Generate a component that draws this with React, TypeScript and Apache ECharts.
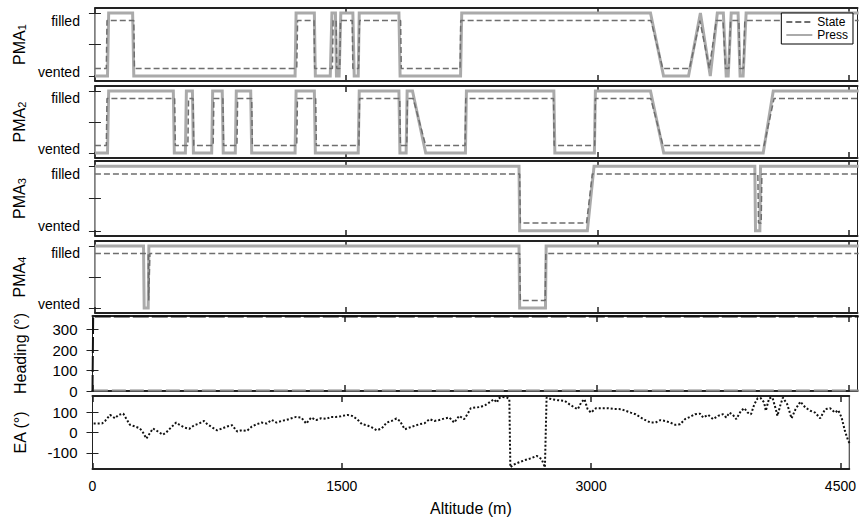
import React, { useEffect, useRef } from 'react';
import * as echarts from 'echarts';

// ---------- data ----------
const altitudeTicks = [0, 1500, 3000, 4500];
const headingTicks = [0, 100, 200, 300];
const eaTicks = [-100, 0, 100];
const panelNames = ['PMA1', 'PMA2', 'PMA3', 'PMA4', 'Heading (°)', 'EA (°)'];

// Press: 1 = filled, 0 = vented ; State drawn at its own levels (0.12 vented / 0.88 filled)
const pma1Press = [[0,0],[75,0],[82,1],[225,1],[232,0],[1195,0],[1201,1],[1310,1],[1316,0],[1405,0],[1415,1],[1436,1],[1442,0],[1458,0],[1468,1],[1540,1],[1548,0],[1572,0],[1578,1],[1815,1],[1822,0],[2183,0],[2190,1],[3317,1],[3395,0],[3544,0],[3615,1],[3674,0],[3716,1],[3752,1],[3769,0],[3781,0],[3799,1],[3840,1],[3852,0],[3870,0],[3888,1],[4560,1]];
const pma1State = [[0,0.12],[68,0.12],[72,0.88],[232,0.88],[236,0.12],[1205,0.12],[1210,0.88],[1308,0.88],[1312,0.12],[1418,0.12],[1422,0.88],[1440,0.88],[1444,0.12],[1462,0.12],[1466,0.88],[1536,0.88],[1540,0.12],[1574,0.12],[1580,0.88],[1825,0.88],[1829,0.12],[2180,0.12],[2184,0.88],[3320,0.88],[3390,0.12],[3550,0.12],[3612,0.88],[3668,0.12],[3710,0.88],[3750,0.88],[3765,0.12],[3785,0.12],[3795,0.88],[3845,0.88],[3850,0.12],[3872,0.12],[3880,0.88],[4560,0.88]];
const pma2Press = [[0,0],[75,0],[82,1],[468,1],[474,0],[540,0],[546,1],[582,1],[588,0],[697,0],[703,1],[760,1],[766,0],[838,0],[844,1],[930,1],[936,0],[1195,0],[1201,1],[1310,1],[1316,0],[1572,0],[1578,1],[1815,1],[1821,0],[1858,0],[1864,1],[1896,1],[1975,0],[2212,0],[2218,1],[2740,1],[2746,0],[2982,0],[2988,1],[3317,1],[3396,0],[3990,0],[4050,1],[4560,1]];
const pma2State = [[0,0.12],[68,0.12],[72,0.88],[476,0.88],[480,0.12],[555,0.12],[559,0.88],[586,0.88],[590,0.12],[706,0.12],[710,0.88],[764,0.88],[768,0.12],[848,0.12],[852,0.88],[936,0.88],[940,0.12],[1205,0.12],[1209,0.88],[1318,0.88],[1322,0.12],[1576,0.12],[1580,0.88],[1820,0.88],[1824,0.12],[1862,0.12],[1866,0.88],[1900,0.88],[1975,0.12],[2210,0.12],[2214,0.88],[2738,0.88],[2742,0.12],[2984,0.12],[2988,0.88],[3318,0.88],[3392,0.12],[3995,0.12],[4055,0.88],[4560,0.88]];
const pma3Press = [[0,1],[2532,1],[2536,0],[2940,0],[2980,1],[3940,1],[3944,0],[3970,0],[3974,1],[4560,1]];
const pma3State = [[0,0.88],[2536,0.88],[2540,0.12],[2935,0.12],[2970,0.88],[3958,0.88],[3962,0.12],[3978,0.12],[3982,0.88],[4560,0.88]];
const pma4Press = [[0,1],[290,1],[294,0],[318,0],[322,1],[2532,1],[2536,0],[2690,0],[2694,1],[4560,1]];
const pma4State = [[0,0.88],[318,0.88],[321,0.12],[325,0.12],[328,0.88],[2536,0.88],[2540,0.12],[2688,0.12],[2692,0.88],[4560,0.88]];

const headingHigh = [[0,0],[4,364],[4560,364]];
const headingLow = [[8,2],[4560,2]];

const ea = [[7,44],[57,44],[76,57],[106,87],[136,70],[156,87],[185,93],[205,66],[225,38],[255,30],[285,20],[304,0],[324,-30],[344,-5],[364,20],[394,5],[423,-11],[443,0],[473,25],[503,49],[523,38],[552,25],[582,18],[612,36],[641,44],[671,57],[691,41],[721,25],[750,11],[780,20],[810,30],[840,36],[870,5],[899,11],[929,8],[959,30],[989,41],[1018,49],[1048,44],[1078,62],[1107,49],[1137,57],[1167,62],[1197,70],[1226,77],[1256,74],[1286,44],[1316,74],[1345,61],[1375,70],[1405,67],[1435,77],[1464,77],[1494,80],[1534,87],[1562,82],[1592,66],[1621,41],[1651,36],[1681,25],[1710,11],[1740,20],[1770,49],[1800,57],[1829,69],[1849,57],[1879,16],[1909,25],[1938,33],[1968,41],[1998,46],[2028,66],[2057,57],[2087,62],[2117,69],[2147,74],[2176,49],[2206,82],[2236,66],[2256,90],[2276,120],[2305,123],[2335,126],[2365,136],[2395,152],[2414,164],[2434,148],[2444,169],[2464,175],[2494,172],[2508,164],[2514,-172],[2533,-159],[2563,-148],[2603,-136],[2642,-126],[2672,-115],[2702,-131],[2722,-172],[2732,172],[2761,164],[2801,159],[2841,156],[2870,139],[2900,123],[2920,115],[2940,148],[2960,164],[2979,115],[2999,98],[3029,120],[3060,120],[3099,120],[3139,116],[3179,115],[3208,107],[3238,98],[3268,90],[3298,74],[3327,61],[3357,49],[3387,49],[3417,61],[3446,57],[3476,49],[3506,38],[3536,41],[3565,66],[3595,77],[3625,90],[3655,93],[3674,74],[3704,87],[3734,66],[3764,82],[3793,90],[3813,74],[3833,98],[3853,87],[3873,66],[3902,107],[3922,120],[3942,98],[3962,90],[3982,139],[4002,169],[4021,169],[4041,148],[4051,107],[4071,169],[4091,172],[4111,115],[4121,82],[4140,139],[4154,172],[4180,139],[4206,70],[4230,115],[4259,152],[4289,123],[4319,107],[4348,98],[4378,70],[4408,115],[4438,120],[4467,98],[4487,110],[4507,74],[4527,8],[4547,-41],[4560,-60]];

const pressSeries = [pma1Press, pma2Press, pma3Press, pma4Press];
const stateSeries = [pma1State, pma2State, pma3State, pma4State];

// ---------- layout ----------
const FONT = '"Liberation Sans", Arial, Helvetica, sans-serif';
const TOPS = [8, 86, 161, 241, 316, 396];
const HEIGHTS = [73, 72, 75, 72, 75, 73];
const LEFT = 92.5;
const WIDTH = 765;
const X_MAX = 4553;

function buildOption() {
  const grid = TOPS.map((t, i) => ({
    left: LEFT, top: t, width: WIDTH, height: HEIGHTS[i],
    show: true, borderColor: '#222', borderWidth: 1, backgroundColor: '#fff',
  }));

  const xAxis: any[] = [];
  const yAxis: any[] = [];
  for (let i = 0; i < 6; i++) {
    const last = i === 5;
    const baseX = {
      type: 'value', gridIndex: i, min: 0, max: X_MAX,
      splitLine: { show: false },
      axisLine: { show: true, onZero: false, lineStyle: { color: '#222', width: 2 } },
      axisTick: { show: true, inside: true, length: 6, customValues: altitudeTicks, lineStyle: { color: '#222', width: 1.5 } },
    };
    xAxis.push({
      ...baseX, position: 'bottom',
      axisLabel: last
        ? { show: true, customValues: altitudeTicks, formatter: (v: number) => String(v), color: '#000', fontFamily: FONT, fontSize: 14, margin: 10 }
        : { show: false },
      name: last ? 'Altitude (m)' : '', nameLocation: 'middle', nameGap: 31,
      nameTextStyle: { fontFamily: FONT, fontSize: 16, color: '#000' },
    });
    xAxis.push({ ...baseX, position: 'top', axisLabel: { show: false } });

    const isPma = i < 4;
    const yRange = isPma ? { min: -0.08, max: 1.08 } : i === 4 ? { min: 0, max: 367 } : { min: -180, max: 180 };
    const tickVals = isPma ? [0, 0.5, 1] : i === 4 ? headingTicks : eaTicks;
    const labelVals = isPma ? [0.07, 0.88] : tickVals;
    const name = isPma ? `{a|PMA}{b|${i + 1}}` : panelNames[i];
    const baseY = {
      type: 'value', gridIndex: i, ...yRange,
      splitLine: { show: false },
      axisLine: { show: false },
      axisTick: { show: true, inside: true, length: 6, customValues: tickVals, lineStyle: { color: '#222', width: 1 } },
    };
    yAxis.push({
      ...baseY, position: 'left',
      axisLabel: {
        show: true, customValues: labelVals,
        formatter: (v: number) => (isPma ? (v > 0.5 ? 'filled' : 'vented') : String(v)),
        color: '#000', fontFamily: FONT, fontSize: isPma ? 14 : 15, margin: 15,
      },
      name, nameLocation: 'middle', nameRotate: 90, nameGap: 64,
      nameTextStyle: {
        fontFamily: FONT, fontSize: 16, color: '#000',
        rich: {
          a: { fontFamily: FONT, fontSize: 16, color: '#000', lineHeight: 16 },
          b: { fontFamily: FONT, fontSize: 11, color: '#000', verticalAlign: 'bottom', lineHeight: 11, padding: [8, 0, 0, 0] },
        },
      },
    });
    yAxis.push({ ...baseY, position: 'right', axisLabel: { show: false } });
  }

  const series: any[] = [];
  for (let i = 0; i < 4; i++) {
    series.push({
      name: 'Press', type: 'line', xAxisIndex: 2 * i, yAxisIndex: 2 * i,
      data: pressSeries[i], symbol: 'none', z: 2,
      lineStyle: { color: '#aaaaaa', width: 3, join: 'miter' }, itemStyle: { color: '#aaaaaa' },
    });
    series.push({
      name: 'State', type: 'line', xAxisIndex: 2 * i, yAxisIndex: 2 * i,
      data: stateSeries[i], symbol: 'none', z: 3,
      lineStyle: { color: '#6e6e6e', width: 1.5, type: [6, 3] }, itemStyle: { color: '#6e6e6e' },
    });
  }
  series.push({
    name: 'Heading', type: 'line', xAxisIndex: 8, yAxisIndex: 8, data: headingHigh, symbol: 'none', z: 3,
    lineStyle: { color: '#111', width: 2, type: [16, 3] },
  });
  series.push({
    name: 'Heading', type: 'line', xAxisIndex: 8, yAxisIndex: 8, data: headingLow, symbol: 'none', z: 3,
    lineStyle: { color: '#888', width: 2, type: [14, 4] },
  });
  series.push({
    name: 'EA', type: 'line', xAxisIndex: 10, yAxisIndex: 10, data: ea, symbol: 'none', z: 3,
    lineStyle: { color: '#111', width: 2, type: [2, 2] },
  });

  return {
    animation: false,
    backgroundColor: '#fff',
    textStyle: { fontFamily: FONT },
    grid, xAxis, yAxis, series,
    legend: {
      data: ['State', 'Press'], orient: 'vertical', right: 6, top: 13,
      backgroundColor: '#fff', borderColor: '#000', borderWidth: 1,
      padding: [3, 5, 3, 4], itemGap: 1, itemWidth: 26, itemHeight: 12,
      itemStyle: { opacity: 0 },
      textStyle: { fontFamily: FONT, fontSize: 12, color: '#000', padding: [0, 0, 0, 0] },
      selectedMode: false, z: 10,
    },
  };
}

export default function App() {
  const ref = useRef<HTMLDivElement>(null);
  useEffect(() => {
    if (!ref.current) return;
    const chart = echarts.init(ref.current, undefined, { renderer: 'svg' });
    chart.setOption(buildOption() as any);
    return () => chart.dispose();
  }, []);
  return (
    <div
      ref={ref}
      style={{ position: 'fixed', left: 0, top: 0, width: 859, height: 517, background: '#fff' }}
    />
  );
}
